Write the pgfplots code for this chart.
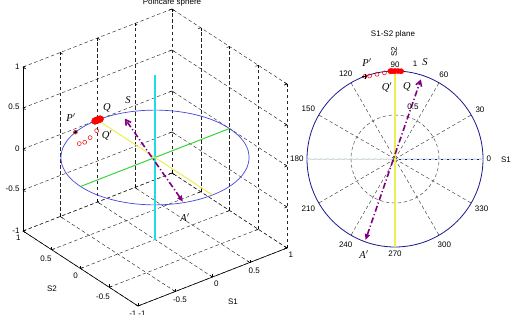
\documentclass[border=0pt]{standalone}
\usepackage{pgfplots}
\pgfplotsset{compat=1.18}
\usepgfplotslibrary{polar}
\usetikzlibrary{arrows.meta}
\usepackage{fontspec}
\setmainfont{Liberation Sans}
\newfontfamily\tnr{Liberation Serif}
\definecolor{cblue}{RGB}{70,70,220}
\definecolor{cnavy}{RGB}{25,25,140}
\definecolor{mycyan}{RGB}{30,222,228}
\definecolor{cgreen}{RGB}{60,210,60}
\definecolor{cyel}{RGB}{238,238,80}
\definecolor{cpurp}{RGB}{128,0,128}
\definecolor{clight}{RGB}{200,220,228}
\newcommand{\lab}[1]{{\fontsize{10.5}{12}\selectfont\tnr\itshape #1}}
\begin{document}
\begin{tikzpicture}[font=\fontsize{8}{9.5}\selectfont]
\useasboundingbox (0,0) rectangle (514pt,314pt);
\begin{axis}[
  at={(155pt,156.5pt)}, anchor=origin,
  x={(74.5pt,29pt)}, y={(-57.5pt,37.5pt)}, z={(0pt,82pt)},
  xmin=-1,xmax=1,ymin=-1,ymax=1,zmin=-1,zmax=1,
  xtick={-1,-0.5,0,0.5,1}, ytick={-1,-0.5,0,0.5,1}, ztick={-1,-0.5,0,0.5,1},
  grid=major,
  major grid style={black!85, line width=0.45pt, dash pattern=on 3.5pt off 2.5pt},
  axis line style={draw=none},
  tick style={black, line width=0.5pt},
  major tick length=3pt,
  /pgf/number format/assume math mode=true,
  clip=false,
]
\addplot3[black, line width=0.6pt] coordinates {(-1,-1,-1) (1,-1,-1)};
\addplot3[black, line width=0.6pt] coordinates {(-1,-1,-1) (-1,1,-1)};
\addplot3[black, line width=0.6pt] coordinates {(-1,1,-1) (-1,1,1)};
% equator
\addplot3[cblue, line width=0.7pt, smooth] coordinates {
(1,0,0) (0.985,0.174,0) (0.940,0.342,0) (0.866,0.5,0) (0.766,0.643,0) (0.643,0.766,0)
(0.5,0.866,0) (0.342,0.940,0) (0.174,0.985,0) (0,1,0) (-0.174,0.985,0) (-0.342,0.940,0)
(-0.5,0.866,0) (-0.643,0.766,0) (-0.766,0.643,0) (-0.866,0.5,0) (-0.940,0.342,0) (-0.985,0.174,0)
(-1,0,0) (-0.985,-0.174,0) (-0.940,-0.342,0) (-0.866,-0.5,0) (-0.766,-0.643,0) (-0.643,-0.766,0)
(-0.5,-0.866,0) (-0.342,-0.940,0) (-0.174,-0.985,0) (0,-1,0) (0.174,-0.985,0) (0.342,-0.940,0)
(0.5,-0.866,0) (0.643,-0.766,0) (0.766,-0.643,0) (0.866,-0.5,0) (0.940,-0.342,0) (0.985,-0.174,0) (1,0,0)};
\addplot3[draw=mycyan, line width=1.2pt] coordinates {(0,0,-1) (0,0,1)};
\addplot3[cgreen, line width=1pt] coordinates {(-1,0,0) (1,0,0)};
\addplot3[cyel, line width=1pt] coordinates {(0,-1,0) (0,1,0)};
\addplot3[cpurp, line width=1.6pt, dash pattern=on 6pt off 2.5pt on 1.2pt off 2.5pt,
  {Triangle[length=6pt,width=5pt]}-{Straight Barb[length=5pt,width=6pt]}]
  coordinates {(-0.335,-0.92,0) (0.29,0.90,-0.04)};
% trailing points
\addplot3[only marks, red, mark=o, mark size=2pt, line width=0.5pt] coordinates {
(-0.288,0.943,-0.16) (-0.204,0.958,-0.18) (-0.120,0.973,-0.16) (-0.017,0.992,-0.12)};
\addplot3[only marks, red, mark=*, mark size=3.4pt] coordinates {
(0.035,0.999,0) (0.017,1,0) (0,1,0) (-0.017,1,0) (-0.035,0.999,0)};
\addplot3[only marks, red, mark=o, mark size=2pt, line width=0.5pt] coordinates {(-0.342,0.940,0)};
\addplot3[only marks, black, mark=*, mark size=1.3pt] coordinates {(-0.342,0.940,0)};
\end{axis}
% 3D labels
\node at (172pt,312pt) {Poincare sphere};
\node at (233pt,12pt) {S1};
\node at (52pt,25pt) {S2};
\node at (71pt,196pt) {\lab{P$'$}};
\node at (107pt,206pt) {\lab{Q}};
\node at (128pt,214pt) {\lab{S}};
\node at (107pt,179pt) {\lab{Q$'$}};
\node at (185pt,96pt) {\lab{A$'$}};
\begin{polaraxis}[
  at={(395pt,155pt)}, anchor=center,
  scale only axis, width=176pt, height=176pt,
  ymin=0, ymax=1,
  xtick={0,30,...,330}, ytick={0.5},
  yticklabels={},
  xticklabel={\pgfmathprintnumber[assume math mode=true]{\tick}},
  grid=major,
  major grid style={black!75, line width=0.45pt, dash pattern=on 3.5pt off 2.5pt},
  axis line style={cnavy, line width=0.8pt},
  major tick length=0pt,
  clip=false,
]
\addplot[clight, line width=0.8pt, dash pattern=on 4pt off 2pt] coordinates {(0,1) (180,1)};
\addplot[cyel, line width=1.1pt] coordinates {(90,1) (270,1)};
\addplot[cpurp, line width=1.6pt, dash pattern=on 6pt off 2.5pt on 1.2pt off 2.5pt,
  {Triangle[length=6pt,width=5pt]}-{Straight Barb[length=5pt,width=6pt]}]
  coordinates {(250,0.98) (72,0.95)};
\addplot[only marks, red, mark=o, mark size=2pt, line width=0.5pt] coordinates {
(107,0.987) (102,0.984) (97,0.987) (91,0.993) (110,1)};
\addplot[only marks, red, mark=*, mark size=2.6pt] coordinates {
(86,1) (88,1) (90,1) (92,1) (93,1)};
\addplot[only marks, black, mark=+, mark size=2.5pt, line width=0.6pt] coordinates {(110,1)};
\end{polaraxis}
\node at (393pt,280pt) {S1-S2 plane};
\node[rotate=90] at (394pt,262pt) {S2};
\node at (506pt,154pt) {S1};
\node at (415pt,250pt) {1};
\node at (413pt,207pt) {0.5};
\node at (367pt,251pt) {\lab{P$'$}};
\node at (425pt,252pt) {\lab{S}};
\node at (387pt,227pt) {\lab{Q$'$}};
\node at (407pt,227pt) {\lab{Q}};
\node at (364pt,59pt) {\lab{A$'$}};
\end{tikzpicture}
\end{document}
